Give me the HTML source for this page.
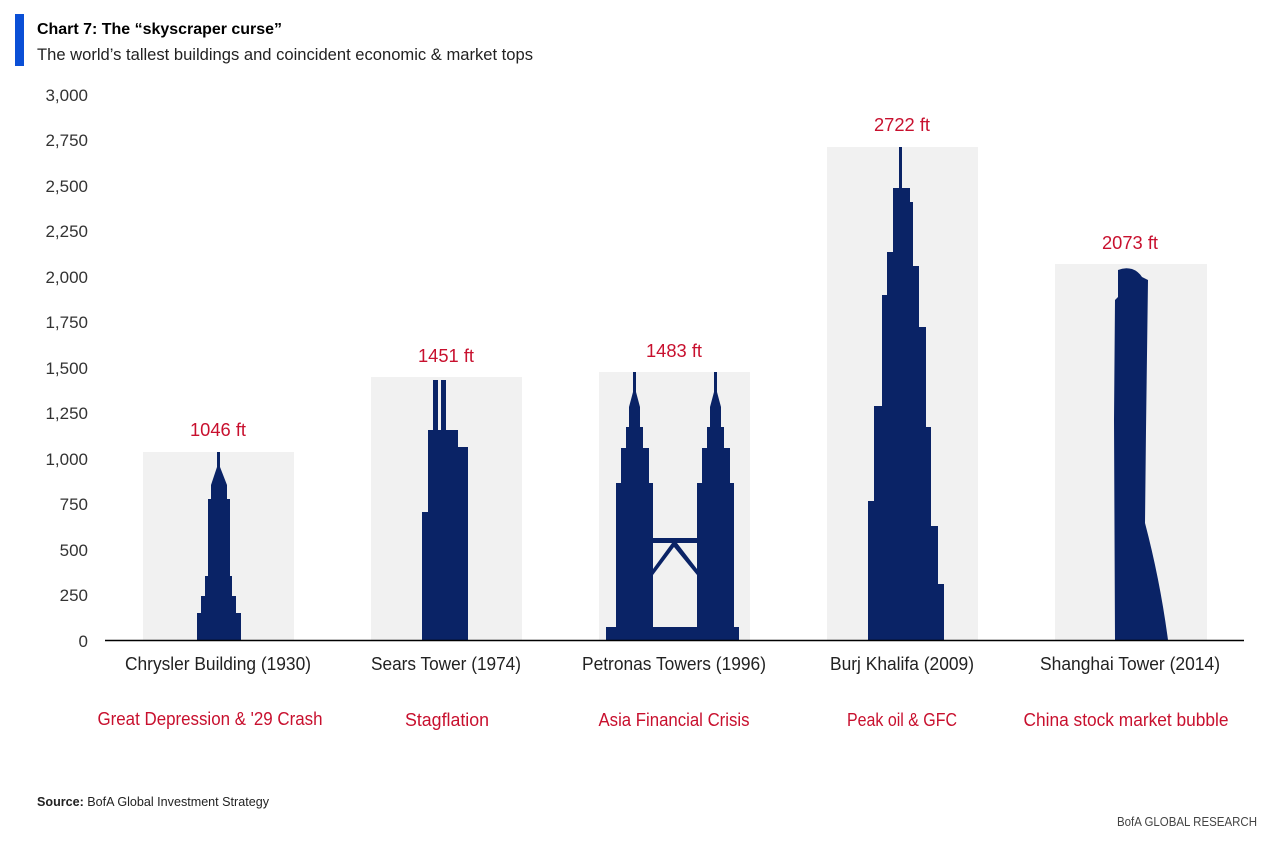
<!DOCTYPE html>
<html><head><meta charset="utf-8"><style>
html,body{margin:0;padding:0;background:#fff;}
svg{display:block;font-family:"Liberation Sans Narrow","Liberation Sans",sans-serif;}
</style></head><body>
<svg width="1280" height="844" viewBox="0 0 1280 844" xmlns="http://www.w3.org/2000/svg">
<rect x="15" y="14" width="9" height="52" fill="#0a4fd6"/>
<text x="37" y="34" font-size="16" font-weight="bold" fill="#000" textLength="245" lengthAdjust="spacingAndGlyphs">Chart 7: The “skyscraper curse”</text>
<text x="37" y="60" font-size="16.5" fill="#222" textLength="496" lengthAdjust="spacingAndGlyphs">The world’s tallest buildings and coincident economic &amp; market tops</text>
<g font-size="17" fill="#333" text-anchor="end">
<text x="88" y="101">3,000</text><text x="88" y="146">2,750</text><text x="88" y="192">2,500</text>
<text x="88" y="237">2,250</text><text x="88" y="283">2,000</text><text x="88" y="328">1,750</text>
<text x="88" y="374">1,500</text><text x="88" y="419">1,250</text><text x="88" y="465">1,000</text>
<text x="88" y="510">750</text><text x="88" y="556">500</text><text x="88" y="601">250</text>
<text x="88" y="647">0</text>
</g>
<g fill="#f1f1f1">
<rect x="143" y="452" width="151" height="188"/>
<rect x="371" y="377" width="151" height="263"/>
<rect x="599" y="372" width="151" height="268"/>
<rect x="827" y="147" width="151" height="493"/>
<rect x="1055" y="264" width="152" height="376"/>
</g>
<g fill="#0a2366">
<polygon points="217,452 220,452 220,467 227,485 227,499 230,499 230,576 232,576 232,596 236,596 236,613 241,613 241,640 197,640 197,613 201,613 201,596 205,596 205,576 208,576 208,499 211,499 211,485 217,467"/>
<rect x="433" y="380" width="5" height="52"/>
<rect x="441" y="380" width="5" height="52"/>
<polygon points="428,430 458,430 458,447 468,447 468,640 422,640 422,512 428,512"/>
<polygon points="633,372 636,372 636,392 640,407 640,427 643,427 643,448 649,448 649,483 653,483 653,627 616,627 616,483 621,483 621,448 626,448 626,427 629,427 629,407 633,392"/>
<polygon points="714,372 717,372 717,392 721,407 721,427 724,427 724,448 730,448 730,483 734,483 734,627 697,627 697,483 702,483 702,448 707,448 707,427 710,427 710,407 714,392"/>
<rect x="606" y="627" width="133" height="13"/>
<rect x="653" y="538" width="44" height="5"/>
<polygon points="672,543 677,543 697,569 697,575 674,547 653,575 653,569"/>
<polygon points="899,147 902,147 902,188 910,188 910,202 913,202 913,266 919,266 919,327 926,327 926,427 931,427 931,526 938,526 938,584 944,584 944,640 868,640 868,501 874,501 874,406 882,406 882,295 887,295 887,252 893,252 893,188 899,188"/>
<path d="M1118,297 L1118,270 Q1125,267 1132,269 Q1138,271 1142,277 L1148,280 L1146,430 L1145,523 Q1160,580 1168,640 L1115,640 L1114,420 L1115,300 Z"/>
</g>
<line x1="105" y1="640.5" x2="1244" y2="640.5" stroke="#000" stroke-width="1.5"/>
<g font-size="18" fill="#c8102e" text-anchor="middle">
<text x="218" y="436" textLength="56" lengthAdjust="spacingAndGlyphs">1046 ft</text>
<text x="446" y="362" textLength="56" lengthAdjust="spacingAndGlyphs">1451 ft</text>
<text x="674" y="357" textLength="56" lengthAdjust="spacingAndGlyphs">1483 ft</text>
<text x="902" y="131" textLength="56" lengthAdjust="spacingAndGlyphs">2722 ft</text>
<text x="1130" y="249" textLength="56" lengthAdjust="spacingAndGlyphs">2073 ft</text>
</g>
<g font-size="18" fill="#222" text-anchor="middle">
<text x="218" y="670" textLength="186" lengthAdjust="spacingAndGlyphs">Chrysler Building (1930)</text>
<text x="446" y="670" textLength="150" lengthAdjust="spacingAndGlyphs">Sears Tower (1974)</text>
<text x="674" y="670" textLength="184" lengthAdjust="spacingAndGlyphs">Petronas Towers (1996)</text>
<text x="902" y="670" textLength="144" lengthAdjust="spacingAndGlyphs">Burj Khalifa (2009)</text>
<text x="1130" y="670" textLength="180" lengthAdjust="spacingAndGlyphs">Shanghai Tower (2014)</text>
</g>
<g font-size="18" fill="#c8102e" text-anchor="middle">
<text x="210" y="725" textLength="225" lengthAdjust="spacingAndGlyphs">Great Depression &amp; '29 Crash</text>
<text x="447" y="726" textLength="84" lengthAdjust="spacingAndGlyphs">Stagflation</text>
<text x="674" y="726" textLength="151" lengthAdjust="spacingAndGlyphs">Asia Financial Crisis</text>
<text x="902" y="726" textLength="110" lengthAdjust="spacingAndGlyphs">Peak oil &amp; GFC</text>
<text x="1126" y="726" textLength="205" lengthAdjust="spacingAndGlyphs">China stock market bubble</text>
</g>
<text x="37" y="806" font-size="13" fill="#222" textLength="232" lengthAdjust="spacingAndGlyphs"><tspan font-weight="bold">Source:</tspan> BofA Global Investment Strategy</text>
<text x="1257" y="826" font-size="13" fill="#444" text-anchor="end" textLength="140" lengthAdjust="spacingAndGlyphs">BofA GLOBAL RESEARCH</text>
</svg>
</body></html>
